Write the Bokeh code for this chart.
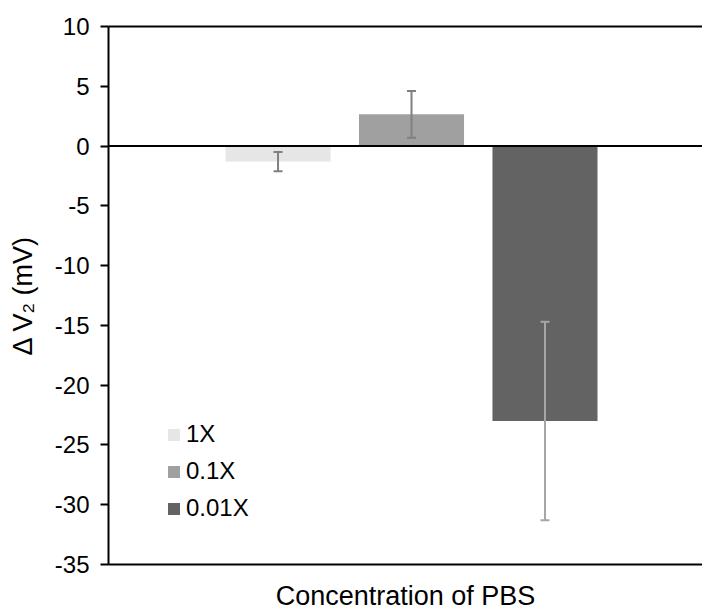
from bokeh.plotting import figure
from bokeh.models import (ColumnDataSource, Span, Whisker, TeeHead, FixedTicker,
                          LinearAxis, Range1d)
from bokeh.embed import file_html
from bokeh.resources import INLINE

# ---- data ----
labels = ["1X", "0.1X", "0.01X"]
means = [-1.3, 2.65, -23.0]
errors = [0.8, 1.95, 8.3]
y_ticks = [-35, -30, -25, -20, -15, -10, -5, 0, 5, 10]

# ---- styles ----
bar_colors = ["#e6e6e6", "#a0a0a0", "#636363"]
err_colors = ["#808080", "#808080", "#a6a6a6"]
FONT = "Liberation Sans"

xs = list(range(len(labels)))
src = ColumnDataSource(dict(x=xs, top=means, label=labels, color=bar_colors))

p = figure(width=702, height=613, output_backend="svg", toolbar_location=None,
           x_range=Range1d(-1.27, 3.18), y_range=Range1d(-35, 10),
           min_border_left=108, min_border_right=0, min_border_top=26,
           min_border_bottom=49, x_axis_location=None, y_axis_location=None)
p.outline_line_color = None
p.background_fill_color = "white"
p.border_fill_color = "white"
p.grid.visible = False

p.vbar(x="x", top="top", bottom=0, width=0.787, fill_color="color",
       line_color=None, source=src, legend_field="label")

# error bars
for i in range(len(labels)):
    s = ColumnDataSource(dict(base=[xs[i]], upper=[means[i] + errors[i]],
                              lower=[means[i] - errors[i]]))
    w = Whisker(base="base", upper="upper", lower="lower", source=s,
                line_color=err_colors[i], line_width=2, level="annotation",
                upper_head=TeeHead(size=9, line_color=err_colors[i], line_width=2),
                lower_head=TeeHead(size=9, line_color=err_colors[i], line_width=2))
    p.add_layout(w)

# zero line
p.add_layout(Span(location=0, dimension="width", line_color="black", line_width=2,
                  level="overlay"))

# left axis
yax = LinearAxis(ticker=FixedTicker(ticks=y_ticks))
yax.major_label_overrides = {t: str(t) for t in y_ticks}
yax.axis_line_width = 2
yax.axis_line_color = "black"
yax.major_tick_line_width = 2
yax.major_tick_line_color = "black"
yax.major_tick_out = 8
yax.major_tick_in = 0
yax.minor_tick_line_color = None
yax.major_label_standoff = 11
yax.major_label_text_font = FONT
yax.major_label_text_font_size = "24px"
yax.major_label_text_color = "black"
yax.axis_label = "Δ V₂ (mV)"
yax.axis_label_text_font = FONT
yax.axis_label_text_font_size = "27px"
yax.axis_label_text_font_style = "normal"
yax.axis_label_text_color = "black"
yax.axis_label_standoff = 14
p.add_layout(yax, "left")

# bottom and top border lines
for loc in ("below", "above"):
    ax = LinearAxis()
    ax.axis_line_width = 2
    ax.axis_line_color = "black"
    ax.major_tick_line_color = None
    ax.minor_tick_line_color = None
    ax.major_tick_out = 0
    ax.major_tick_in = 0
    ax.major_label_standoff = 0
    ax.major_label_text_font_size = "0px"
    ax.major_label_text_alpha = 0
    if loc == "below":
        ax.axis_label = "Concentration of PBS"
        ax.axis_label_text_font = FONT
        ax.axis_label_text_font_size = "27px"
        ax.axis_label_text_font_style = "normal"
        ax.axis_label_text_color = "black"
        ax.axis_label_standoff = 12
    p.add_layout(ax, loc)

# legend
lg = p.legend[0]
lg.location = (58, 41)
lg.glyph_width = 15
lg.glyph_height = 15
lg.label_text_font = FONT
lg.label_text_font_size = "24px"
lg.label_text_color = "black"
lg.label_standoff = 5
lg.label_height = 30
lg.spacing = 7
lg.padding = 0
lg.margin = 0
lg.border_line_color = None
lg.background_fill_alpha = 0

open("out.html", "w").write(file_html(p, INLINE))
